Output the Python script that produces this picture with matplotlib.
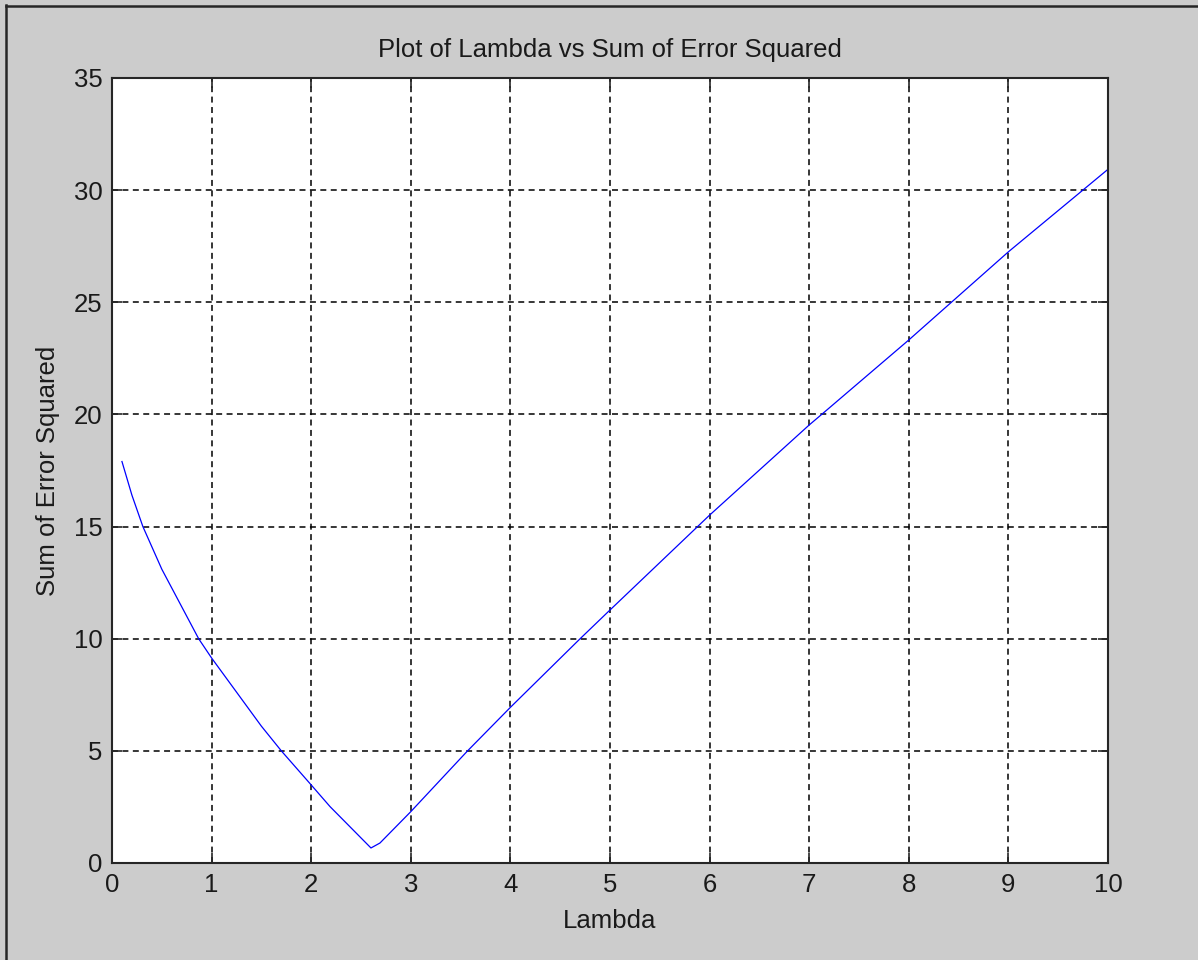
import matplotlib
matplotlib.use("Agg")
import matplotlib.pyplot as plt
from matplotlib.lines import Line2D

# Data
lambda_vals = [0.1, 0.2, 0.31, 0.5, 0.87, 1.0, 1.5, 1.7, 2.0, 2.19, 2.6, 2.69,
               3.0, 3.57, 4.0, 4.7, 5.0, 6.0, 7.0, 7.125, 8.0, 9.0, 10.0]
sse_vals = [17.9, 16.4, 15.0, 13.1, 10.0, 9.14, 6.1, 5.0, 3.48, 2.51, 0.67, 0.89,
            2.29, 5.0, 6.94, 10.0, 11.28, 15.51, 19.53, 20.0, 23.32, 27.25, 30.93]

x_ticks = [0, 1, 2, 3, 4, 5, 6, 7, 8, 9, 10]
y_ticks = [0, 5, 10, 15, 20, 25, 30, 35]

title_text = "Plot of Lambda vs Sum of Error Squared"
x_label = "Lambda"
y_label = "Sum of Error Squared"

plt.rcParams['font.family'] = ['Liberation Sans', 'DejaVu Sans']
plt.rcParams['lines.scale_dashes'] = False

W, H = 1198, 960
fig = plt.figure(figsize=(W / 100, H / 100), dpi=100, facecolor='#cccccc')

ax = fig.add_axes([112 / W, (H - 863) / H, 996 / W, 785 / H])
ax.set_facecolor('white')
ax.plot(lambda_vals, sse_vals, color='#0000ff', linewidth=0.9, zorder=3)

ax.set_xlim(0, 10)
ax.set_ylim(0, 35)
ax.set_xticks(x_ticks)
ax.set_yticks(y_ticks)
ax.set_xticklabels([str(t) for t in x_ticks])
ax.set_yticklabels([str(t) for t in y_ticks])

fs = 18.5
ax.tick_params(direction='in', length=7, width=1.2, color='#262626',
               labelsize=fs, labelcolor='#1a1a1a', top=True, right=True)
ax.tick_params(axis='x', pad=7)
ax.tick_params(axis='y', pad=7)

for sp in ax.spines.values():
    sp.set_color('#262626')
    sp.set_linewidth(1.5)
    sp.set_zorder(5)

ax.grid(True, color='black', linestyle=(0, (4.3, 3.2)), linewidth=1.1, zorder=2)

ax.set_title(title_text, fontsize=fs, color='#1a1a1a', pad=15)
ax.set_xlabel(x_label, fontsize=fs, color='#1a1a1a', labelpad=9)
ax.set_ylabel(y_label, fontsize=fs, color='#1a1a1a', labelpad=10)

# window border (left and top)
fig.add_artist(Line2D([6 / W, 6 / W], [0, 1 - 5 / H], transform=fig.transFigure,
                      color='#262626', linewidth=1.8))
fig.add_artist(Line2D([6 / W, 1], [1 - 6 / H, 1 - 6 / H], transform=fig.transFigure,
                      color='#262626', linewidth=1.8))

fig.savefig('out.png', dpi=100, facecolor=fig.get_facecolor())
